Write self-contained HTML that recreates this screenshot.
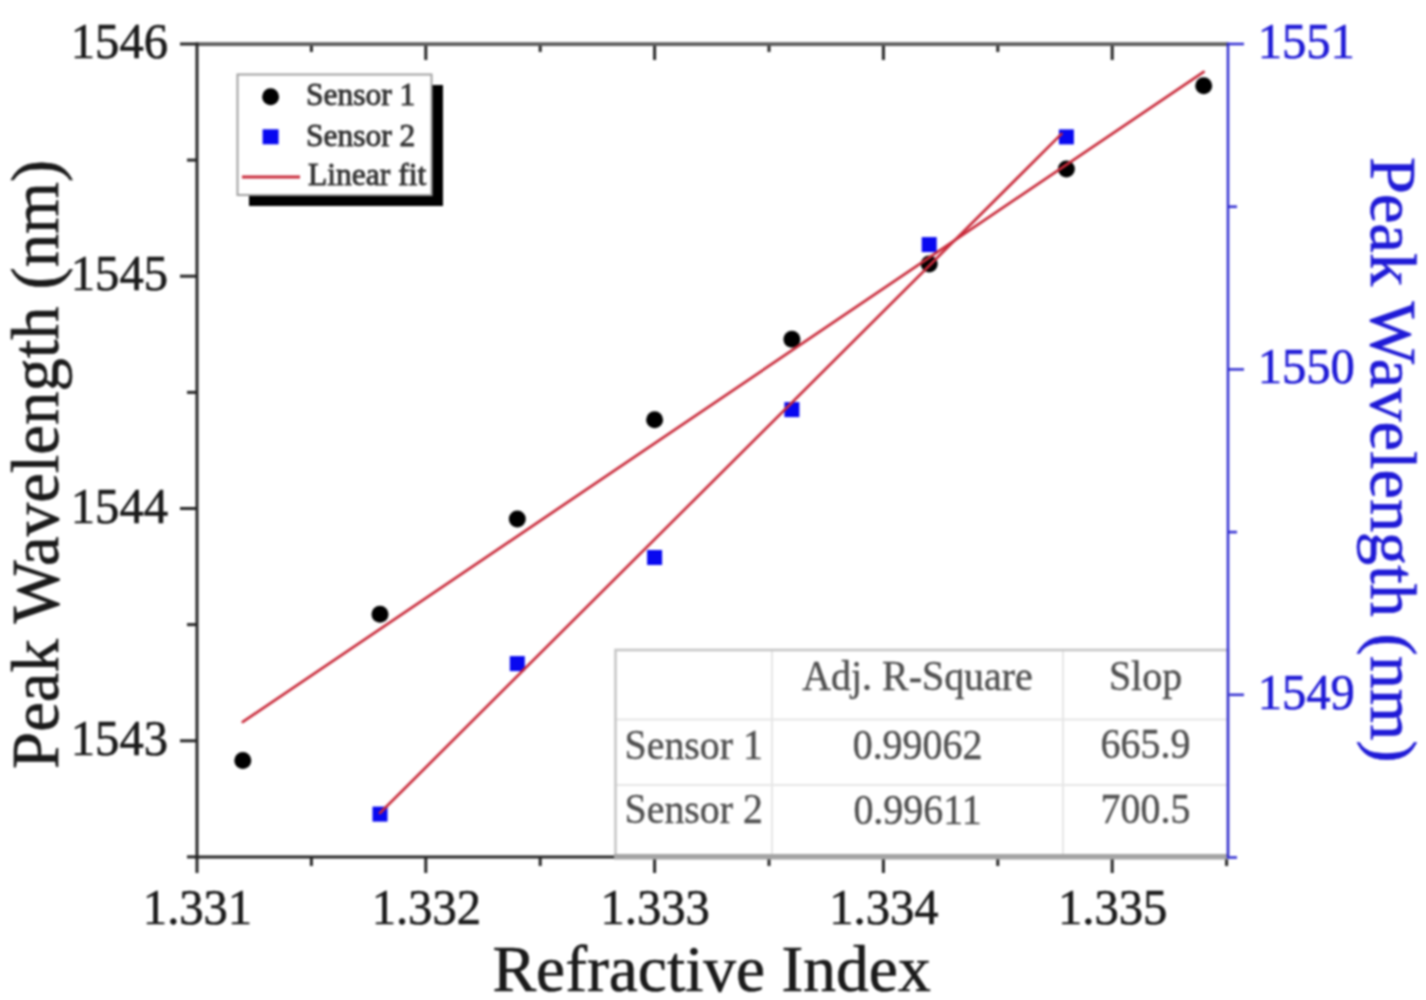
<!DOCTYPE html><html><head><meta charset="utf-8"><style>html,body{margin:0;padding:0;background:#fff;}svg{display:block;filter:blur(1px)}text{font-family:"Liberation Serif", serif}</style></head><body>
<svg width="1426" height="1000" viewBox="0 0 1426 1000">
<rect x="0" y="0" width="1426" height="1000" fill="#fff"/>
<line x1="197.0" y1="857" x2="197.0" y2="873" stroke="#262626" stroke-width="3"/>
<line x1="425.8" y1="857" x2="425.8" y2="873" stroke="#262626" stroke-width="3"/>
<line x1="654.6" y1="857" x2="654.6" y2="873" stroke="#262626" stroke-width="3"/>
<line x1="883.4" y1="857" x2="883.4" y2="873" stroke="#262626" stroke-width="3"/>
<line x1="1112.2" y1="857" x2="1112.2" y2="873" stroke="#262626" stroke-width="3"/>
<line x1="311.4" y1="857" x2="311.4" y2="866" stroke="#262626" stroke-width="3"/>
<line x1="540.2" y1="857" x2="540.2" y2="866" stroke="#262626" stroke-width="3"/>
<line x1="769.0" y1="857" x2="769.0" y2="866" stroke="#262626" stroke-width="3"/>
<line x1="997.8" y1="857" x2="997.8" y2="866" stroke="#262626" stroke-width="3"/>
<line x1="1226.6" y1="857" x2="1226.6" y2="866" stroke="#262626" stroke-width="3"/>
<line x1="425.8" y1="44" x2="425.8" y2="60" stroke="#262626" stroke-width="3"/>
<line x1="654.6" y1="44" x2="654.6" y2="60" stroke="#262626" stroke-width="3"/>
<line x1="883.4" y1="44" x2="883.4" y2="60" stroke="#262626" stroke-width="3"/>
<line x1="1112.2" y1="44" x2="1112.2" y2="60" stroke="#262626" stroke-width="3"/>
<line x1="311.4" y1="44" x2="311.4" y2="52" stroke="#262626" stroke-width="3"/>
<line x1="540.2" y1="44" x2="540.2" y2="52" stroke="#262626" stroke-width="3"/>
<line x1="769.0" y1="44" x2="769.0" y2="52" stroke="#262626" stroke-width="3"/>
<line x1="997.8" y1="44" x2="997.8" y2="52" stroke="#262626" stroke-width="3"/>
<line x1="180" y1="44.0" x2="197" y2="44.0" stroke="#262626" stroke-width="3"/>
<line x1="180" y1="276.2" x2="197" y2="276.2" stroke="#262626" stroke-width="3"/>
<line x1="180" y1="508.5" x2="197" y2="508.5" stroke="#262626" stroke-width="3"/>
<line x1="180" y1="740.8" x2="197" y2="740.8" stroke="#262626" stroke-width="3"/>
<line x1="187" y1="160.1" x2="197" y2="160.1" stroke="#262626" stroke-width="3"/>
<line x1="187" y1="392.4" x2="197" y2="392.4" stroke="#262626" stroke-width="3"/>
<line x1="187" y1="624.6" x2="197" y2="624.6" stroke="#262626" stroke-width="3"/>
<line x1="187" y1="856.9" x2="197" y2="856.9" stroke="#262626" stroke-width="3"/>
<line x1="1228" y1="44.0" x2="1244" y2="44.0" stroke="#2e2ad0" stroke-width="2.5"/>
<line x1="1228" y1="369.4" x2="1244" y2="369.4" stroke="#2e2ad0" stroke-width="2.5"/>
<line x1="1228" y1="694.8" x2="1244" y2="694.8" stroke="#2e2ad0" stroke-width="2.5"/>
<line x1="1228" y1="206.7" x2="1237" y2="206.7" stroke="#2e2ad0" stroke-width="2.5"/>
<line x1="1228" y1="532.1" x2="1237" y2="532.1" stroke="#2e2ad0" stroke-width="2.5"/>
<line x1="1228" y1="857.5" x2="1237" y2="857.5" stroke="#2e2ad0" stroke-width="2.5"/>
<line x1="197" y1="44.2" x2="1228" y2="44.2" stroke="#5c5c5c" stroke-width="3.8"/>
<line x1="197" y1="42.5" x2="197" y2="858.5" stroke="#262626" stroke-width="3"/>
<line x1="195.5" y1="857" x2="1228" y2="857" stroke="#262626" stroke-width="3"/>
<rect x="615.5" y="650" width="612.5" height="206" fill="#fff" stroke="none"/>
<line x1="615.5" y1="719.5" x2="1228" y2="719.5" stroke="#e6e6e6" stroke-width="2"/>
<line x1="615.5" y1="785" x2="1228" y2="785" stroke="#e6e6e6" stroke-width="2"/>
<line x1="772" y1="650" x2="772" y2="856" stroke="#e6e6e6" stroke-width="2"/>
<line x1="1063" y1="650" x2="1063" y2="856" stroke="#e6e6e6" stroke-width="2"/>
<rect x="615.5" y="650" width="612.5" height="206" fill="none" stroke="#c6c6c6" stroke-width="2.6"/>
<rect x="614.0" y="854" width="614.0" height="5.5" fill="#a4a4a4"/>
<text transform="translate(917.50 690.10) scale(0.95 1.0)" font-size="42" fill="#505050" text-anchor="middle" stroke="#505050" stroke-width="0.42">Adj. R-Square</text>
<text transform="translate(1145.50 690.00) scale(0.95 1.0)" font-size="42" fill="#505050" text-anchor="middle" stroke="#505050" stroke-width="0.42">Slop</text>
<text transform="translate(693.75 759.30) scale(0.95 1.0)" font-size="42" fill="#505050" text-anchor="middle" stroke="#505050" stroke-width="0.42">Sensor 1</text>
<text transform="translate(917.50 758.90) scale(0.95 1.0)" font-size="42" fill="#505050" text-anchor="middle" stroke="#505050" stroke-width="0.42">0.99062</text>
<text transform="translate(1145.50 758.40) scale(0.95 1.0)" font-size="42" fill="#505050" text-anchor="middle" stroke="#505050" stroke-width="0.42">665.9</text>
<text transform="translate(693.75 823.30) scale(0.95 1.0)" font-size="42" fill="#505050" text-anchor="middle" stroke="#505050" stroke-width="0.42">Sensor 2</text>
<text transform="translate(917.50 824.00) scale(0.95 1.0)" font-size="42" fill="#505050" text-anchor="middle" stroke="#505050" stroke-width="0.42">0.99611</text>
<text transform="translate(1145.50 823.10) scale(0.95 1.0)" font-size="42" fill="#505050" text-anchor="middle" stroke="#505050" stroke-width="0.42">700.5</text>
<line x1="1228" y1="42.5" x2="1228" y2="858.5" stroke="#2e2ad0" stroke-width="2.5"/>
<circle cx="242.8" cy="760.5" r="8.5" fill="#000"/>
<circle cx="380.0" cy="614.2" r="8.5" fill="#000"/>
<circle cx="517.3" cy="518.9" r="8.5" fill="#000"/>
<circle cx="654.6" cy="419.8" r="8.5" fill="#000"/>
<circle cx="791.9" cy="339.2" r="8.5" fill="#000"/>
<circle cx="929.2" cy="264.1" r="8.5" fill="#000"/>
<circle cx="1066.4" cy="168.9" r="8.5" fill="#000"/>
<circle cx="1203.7" cy="85.8" r="8.5" fill="#000"/>
<rect x="372.5" y="806.6" width="15" height="15" fill="#0808f0"/>
<rect x="509.8" y="656.1" width="15" height="15" fill="#0808f0"/>
<rect x="647.1" y="550.0" width="15" height="15" fill="#0808f0"/>
<rect x="784.4" y="402.1" width="15" height="15" fill="#0808f0"/>
<rect x="921.7" y="237.1" width="15" height="15" fill="#0808f0"/>
<rect x="1058.9" y="129.4" width="15" height="15" fill="#0808f0"/>
<line x1="242.8" y1="721.9" x2="1203.7" y2="71.9" stroke="#c92a3a" stroke-width="2.7" stroke-linecap="round"/>
<line x1="380.0" y1="813" x2="1061.5" y2="133.9" stroke="#c92a3a" stroke-width="2.7" stroke-linecap="round"/>
<rect x="249" y="85" width="194" height="121" fill="#000"/>
<rect x="237.5" y="74.5" width="194" height="120.5" fill="#fff" stroke="#a0a0a0" stroke-width="2"/>
<circle cx="270.6" cy="96.8" r="8.5" fill="#000"/>
<rect x="262.6" y="129.3" width="16" height="15" fill="#0808f0"/>
<line x1="242" y1="177" x2="300" y2="177" stroke="#c92a3a" stroke-width="3"/>
<text transform="translate(305.89 105.30)" font-size="31.5" fill="#333333" stroke="#333333" stroke-width="0.9">Sensor 1</text>
<text transform="translate(305.89 145.50)" font-size="31.5" fill="#333333" stroke="#333333" stroke-width="0.9">Sensor 2</text>
<text transform="translate(308.09 185.20)" font-size="31.5" fill="#333333" stroke="#333333" stroke-width="0.9">Linear fit</text>
<text transform="translate(167.96 58.00) scale(0.953 1.0)" font-size="51" fill="#1a1a1a" text-anchor="end" stroke="#1a1a1a" stroke-width="0.63">1546</text>
<text transform="translate(167.96 290.25) scale(0.953 1.0)" font-size="51" fill="#1a1a1a" text-anchor="end" stroke="#1a1a1a" stroke-width="0.63">1545</text>
<text transform="translate(167.96 522.50) scale(0.953 1.0)" font-size="51" fill="#1a1a1a" text-anchor="end" stroke="#1a1a1a" stroke-width="0.63">1544</text>
<text transform="translate(167.96 754.75) scale(0.953 1.0)" font-size="51" fill="#1a1a1a" text-anchor="end" stroke="#1a1a1a" stroke-width="0.63">1543</text>
<text transform="translate(1257.72 57.70) scale(0.953 1.0)" font-size="51" fill="#1f1ad6" stroke="#1f1ad6" stroke-width="0.63">1551</text>
<text transform="translate(1257.72 383.10) scale(0.953 1.0)" font-size="51" fill="#1f1ad6" stroke="#1f1ad6" stroke-width="0.63">1550</text>
<text transform="translate(1257.72 708.50) scale(0.953 1.0)" font-size="51" fill="#1f1ad6" stroke="#1f1ad6" stroke-width="0.63">1549</text>
<text transform="translate(197.50 923.90) scale(0.953 1.0)" font-size="51" fill="#1a1a1a" text-anchor="middle" stroke="#1a1a1a" stroke-width="0.63">1.331</text>
<text transform="translate(426.30 923.90) scale(0.953 1.0)" font-size="51" fill="#1a1a1a" text-anchor="middle" stroke="#1a1a1a" stroke-width="0.63">1.332</text>
<text transform="translate(655.10 923.90) scale(0.953 1.0)" font-size="51" fill="#1a1a1a" text-anchor="middle" stroke="#1a1a1a" stroke-width="0.63">1.333</text>
<text transform="translate(883.90 923.90) scale(0.953 1.0)" font-size="51" fill="#1a1a1a" text-anchor="middle" stroke="#1a1a1a" stroke-width="0.63">1.334</text>
<text transform="translate(1112.70 923.90) scale(0.953 1.0)" font-size="51" fill="#1a1a1a" text-anchor="middle" stroke="#1a1a1a" stroke-width="0.63">1.335</text>
<text transform="translate(492.40 991.40)" font-size="65.5" fill="#1a1a1a" stroke="#1a1a1a" stroke-width="0.60">Refractive Index</text>
<text transform="translate(58.00 768.94) rotate(-90)" font-size="66.8" fill="#1a1a1a" stroke="#1a1a1a" stroke-width="0.60">Peak Wavelength (nm)</text>
<text transform="translate(1371.20 157.07) rotate(90)" font-size="66.4" fill="#1f1ad6" stroke="#1f1ad6" stroke-width="0.60">Peak Wavelength (nm)</text>
</svg></body></html>
